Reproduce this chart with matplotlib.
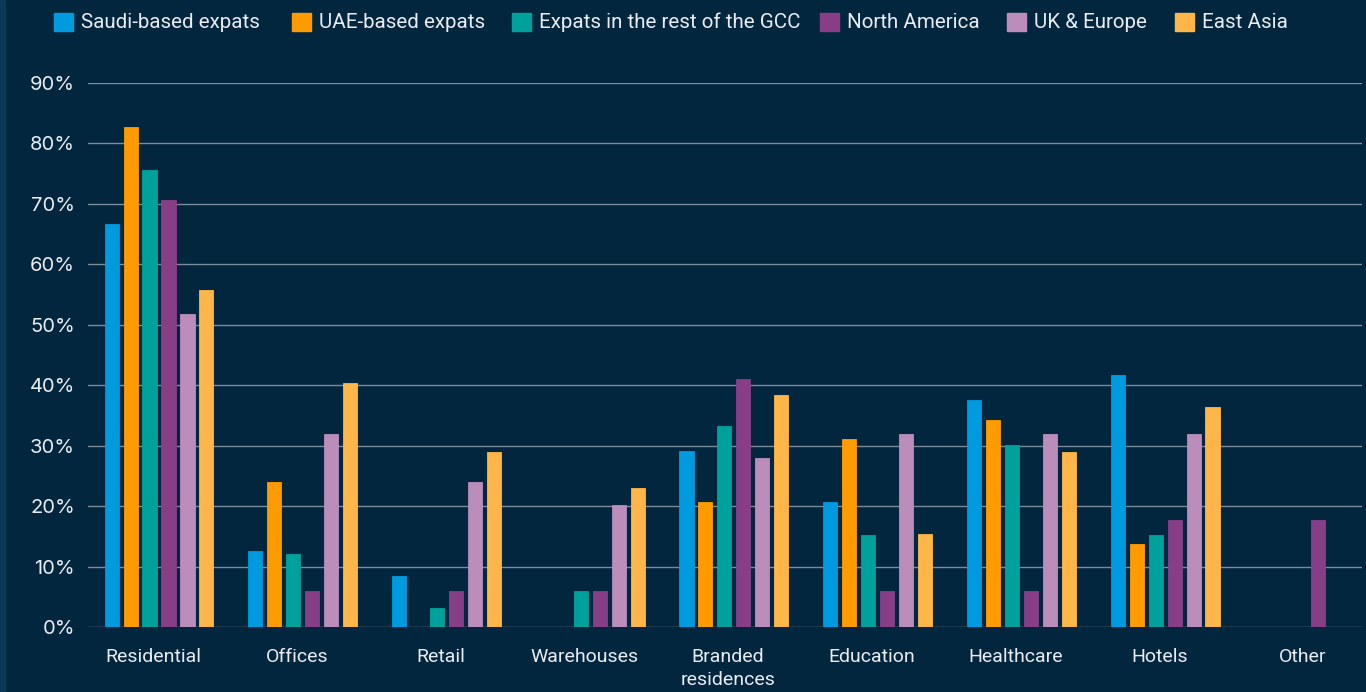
import numpy as np
import matplotlib.pyplot as plt

categories = ['Residential', 'Offices', 'Retail', 'Warehouses', 'Branded\nresidences',
              'Education', 'Healthcare', 'Hotels', 'Other']
series = ['Saudi-based expats', 'UAE-based expats', 'Expats in the rest of the GCC',
          'North America', 'UK & Europe', 'East Asia']
saudi = [66.7, 12.6, 8.4, 0, 29.1, 20.7, 37.6, 41.7, 0]
uae = [82.7, 24.0, 0, 0, 20.7, 31.1, 34.2, 13.7, 0]
gcc = [75.6, 12.1, 3.1, 6.0, 33.3, 15.2, 30.1, 15.2, 0]
north_america = [70.6, 6.0, 6.0, 6.0, 41.0, 6.0, 6.0, 17.7, 17.7]
uk_europe = [51.8, 31.9, 24.0, 20.2, 28.0, 32.0, 32.0, 32.0, 0]
east_asia = [55.8, 40.4, 29.0, 23.0, 38.4, 15.4, 29.0, 36.4, 0]
colors = ['#009ADE', '#FF9B00', '#00A19A', '#873E86', '#BB8DBB', '#FFB548']

W, H = 1366, 692
bg = '#03263F'
txt = '#E8EDF2'
fig = plt.figure(figsize=(W / 100, H / 100), dpi=100, facecolor=bg)
ax = fig.add_axes([88 / W, 65 / H, 1274 / W, 544 / H], facecolor=bg)

x = np.arange(len(categories))
step = 0.132
width = 0.098
data = [saudi, uae, gcc, north_america, uk_europe, east_asia]
for i, (vals, c, name) in enumerate(zip(data, colors, series)):
    ax.bar(x + (i - 2.5) * step, vals, width, color=c, label=name, zorder=3,
           edgecolor=c, linewidth=0.6)

ax.set_xlim(-0.494, 8.37)
ax.set_ylim(0, 90)
ax.set_yticks(np.arange(0, 91, 10))
ax.set_yticklabels([f'{v}%' for v in range(0, 91, 10)], color=txt,
                   fontsize=14.5, family='Inter')
ax.grid(axis='y', color='#7A8C9C', linewidth=1, zorder=0)
ax.set_xticks(x - 0.04)
ax.set_xticklabels(categories, color=txt, fontsize=14, family='Roboto',
                   linespacing=1.4, va='top')
ax.tick_params(axis='both', length=0)
ax.tick_params(axis='x', pad=15)
ax.tick_params(axis='y', pad=9.5)
for s in ax.spines.values():
    s.set_visible(False)

# legend drawn by hand so the entries sit where the reference has them
leg_x = [54, 292, 512, 820, 1007, 1175]
for lx, c, name in zip(leg_x, colors, series):
    fig.patches.append(plt.Rectangle((lx / W, 1 - 31 / H), 19 / W, 18 / H,
                                     transform=fig.transFigure, color=c))
    fig.text((lx + 27) / W, 1 - 22 / H, name, color=txt, fontsize=14.8,
             family='Roboto', va='center', ha='left')

# lighter strip on the left edge
fig.patches.append(plt.Rectangle((0, 0), 5 / W, 1, transform=fig.transFigure,
                                 color='#0B3A57', zorder=0))

fig.savefig('out.png', dpi=100, facecolor=bg)
